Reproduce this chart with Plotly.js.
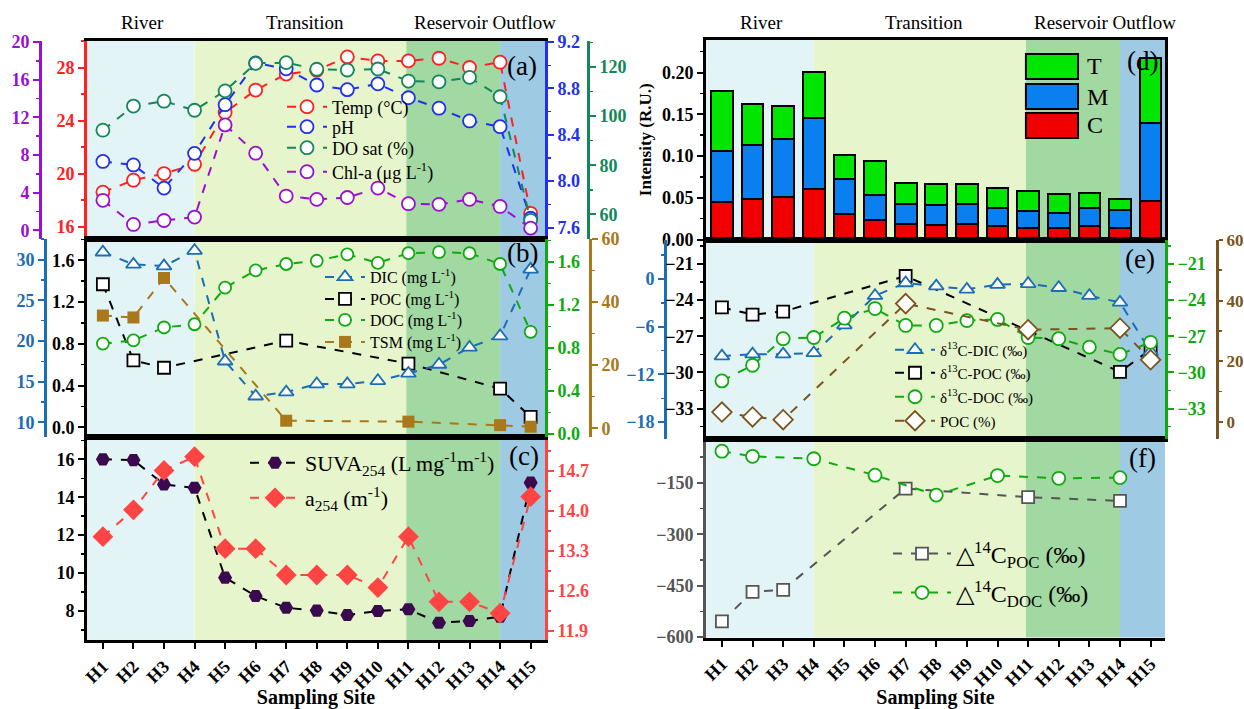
<!DOCTYPE html>
<html><head><meta charset="utf-8">
<script src="https://cdn.plot.ly/plotly-3.0.1.min.js"></script>
<style>html,body{margin:0;padding:0;background:#fff}#chart{width:1244px;height:709px}</style>
</head><body><div id="chart"></div>
<script>
// ---------------- data ----------------
const sites = ['H1','H2','H3','H4','H5','H6','H7','H8','H9','H10','H11','H12','H13','H14','H15'];
const regionNames = ['River','Transition','Reservoir Outflow'];

// (a)
const temp  = [18.6, 19.5, 20.0, 20.7, 24.6, 26.3, 27.5, 27.8, 28.8, 28.5, 28.5, 28.7, 28.0, 28.4, 17.0];
const pH    = [8.17, 8.14, 7.94, 8.24, 8.66, 9.02, 8.97, 8.83, 8.79, 8.84, 8.72, 8.63, 8.52, 8.47, 7.68];
const doSat = [94.3, 104.1, 106.1, 102.4, 110.3, 121.5, 121.8, 119.1, 118.8, 119.2, 114.3, 114.0, 115.8, 107.9, 57.6];
const chla  = [3.2, 0.64, 1.06, 1.42, 11.2, 8.2, 3.65, 3.3, 3.5, 4.5, 2.84, 2.77, 3.3, 2.55, 0.25];
// (b)
const dic = [30.9, 29.4, 29.2, 31.1, 17.5, 13.2, 13.7, 14.7, 14.7, 15.1, 16.0, 17.1, 19.2, 20.6, 28.8];
const poc = [1.37, 0.64, 0.57, null, null, null, 0.83, null, null, null, 0.61, null, null, 0.37, 0.10];
const doc = [0.84, 0.87, 0.99, 1.02, 1.36, 1.52, 1.58, 1.61, 1.67, 1.59, 1.68, 1.69, 1.68, 1.58, 0.95];
const tsm = [35.7, 35.1, 47.6, null, null, null, 2.4, null, null, null, 2.1, null, null, 1.0, 0.5];
// (c)
const suva = [16.0, 15.96, 14.68, 14.5, 9.76, 8.79, 8.17, 8.02, 7.79, 8.0, 8.09, 7.38, 7.47, 7.7, 14.77];
const a254 = [13.55, 14.02, 14.71, 14.95, 13.34, 13.34, 12.88, 12.88, 12.88, 12.66, 13.55, 12.41, 12.41, 12.21, 14.25];
// (d) FDOM components
const compC = [0.045, 0.048, 0.051, 0.061, 0.030, 0.023, 0.018, 0.017, 0.018, 0.016, 0.014, 0.014, 0.016, 0.014, 0.046];
const compM = [0.061, 0.065, 0.070, 0.084, 0.042, 0.030, 0.024, 0.024, 0.024, 0.022, 0.020, 0.018, 0.022, 0.021, 0.094];
const compT = [0.072, 0.049, 0.039, 0.056, 0.029, 0.041, 0.026, 0.025, 0.024, 0.024, 0.024, 0.022, 0.018, 0.013, 0.077];
// (e)
const d13DIC = [-9.7, -9.45, -9.45, -9.3, -5.8, -2.1, -0.5, -0.9, -1.3, -0.7, -0.6, -1.1, -2.1, -2.95, -9.15];
const d13POC = [-24.6, -25.2, -24.95, null, null, null, -22.0, null, null, null, null, null, null, -29.95, -28.1];
const d13DOC = [-30.7, -29.4, -27.2, -27.1, -25.5, -24.7, -26.1, -26.1, -25.7, -25.6, -27.1, -27.2, -27.9, -28.5, -27.5];
const pocPct = [3.3, 1.7, 0.8, null, null, null, 39.0, null, null, null, 30.4, null, null, 30.9, 20.5];
// (f)
const d14POC = [-554, -468, -462, null, null, null, -167, null, null, null, -192, null, null, -203, null];
const d14DOC = [-58, -73, null, -80, null, -128, null, -186, null, -129, null, -137, null, -135, null];

// ---------------- layout constants ----------------
const W = 1244, H = 709;
const SERIF = 'Liberation Serif, Times New Roman, serif';
const XR = [-0.52, 14.47];
const LX = [87/W, 545/W], RX = [706/W, 1165/W];
const A = [1-238.5/H, 1-41/H], B = [1-437/H, 1-238.5/H], C = [1-640/H, 1-437/H];
const D = [1-239.5/H, 1-40/H], E = [1-438.5/H, 1-239.5/H], F = [1-637.5/H, 1-438.5/H];
const zoneEdges = [XR[0], 3, 9.93, 13, XR[1]];
const zoneColors = ['#e3f4f6', '#e6f5cc', '#a2d8a2', '#9ecae4'];
const regionLabelX = [1.3, 6.6, 12.5];

const RED='#ff2020', BLUE='#2030ee', TEAL='#14875a', PURPLE='#9a10d0';
const SBLUE='#1b6db5', DGREEN='#10aa10', GOLD='#a8781a', DPURP='#3b0a4e', LRED='#ff4444';
const BROWN='#7a5420', GRAY='#555555';

// one legend per entry: [left px, centre y px, font size, item width]
const legendSpecs = [
  [282, 107, 18, 40], [282, 127, 18, 40], [282, 148, 18, 40], [282, 172, 18, 40],
  [320, 277, 16, 40], [320, 299, 16, 40], [320, 320, 16, 40], [320, 342, 16, 40],
  [245, 463, 22, 50], [245, 498, 22, 50],
  [890, 350, 15, 40], [890, 373, 15, 40], [890, 397, 15, 40], [890, 421, 15, 40],
  [888, 554, 24, 58], [888, 593, 24, 58]
];
let legCount = 0;
function nextLegend() { legCount++; return legCount === 1 ? 'legend' : 'legend' + legCount; }

function ln(name, y, xa, ya, color, sym, size, filled) {
  return {type:'scatter', mode:'lines+markers', name, x: sites, y, xaxis: xa, yaxis: ya,
    connectgaps: true, legend: nextLegend(), cliponaxis: false,
    line: {color, width: 2, dash: 'dash'},
    marker: {symbol: sym, size, color: filled ? color : '#ffffff', line: {color, width: filled ? 0 : 1.8}}};
}

const traces = [
  // (a)
  ln('Temp (°C)', temp, 'x2', 'y2', RED, 'circle', 13, false),
  ln('pH', pH, 'x2', 'y3', BLUE, 'circle', 13, false),
  ln('DO sat (%)', doSat, 'x2', 'y4', TEAL, 'circle', 13, false),
  ln('Chl-a (μg L<sup>-1</sup>)', chla, 'x2', 'y5', PURPLE, 'circle', 13, false),
  // (b)
  ln('DIC (mg L<sup>-1</sup>)', dic, 'x3', 'y7', SBLUE, 'triangle-up', 13, false),
  ln('POC (mg L<sup>-1</sup>)', poc, 'x3', 'y6', '#000000', 'square', 12, false),
  ln('DOC (mg L<sup>-1</sup>)', doc, 'x3', 'y8', DGREEN, 'circle', 12, false),
  ln('TSM (mg L<sup>-1</sup>)', tsm, 'x3', 'y9', GOLD, 'square', 12, true),
  // (c)
  Object.assign(ln('SUVA<sub>254</sub> (L mg<sup>-1</sup>m<sup>-1</sup>)', suva, 'x', 'y', DPURP, 'hexagon2', 14, true), {line:{color:'#000000', width:2, dash:'dash'}}),
  ln('a<sub>254</sub> (m<sup>-1</sup>)', a254, 'x', 'y10', LRED, 'diamond', 16, true),
  // (e)
  ln('δ<sup>13</sup>C-DIC (‰)', d13DIC, 'x6', 'y14', SBLUE, 'triangle-up', 13, false),
  ln('δ<sup>13</sup>C-POC (‰)', d13POC, 'x6', 'y13', '#000000', 'square', 12, false),
  ln('δ<sup>13</sup>C-DOC (‰)', d13DOC, 'x6', 'y15', DGREEN, 'circle', 13, false),
  ln('POC (%)', pocPct, 'x6', 'y16', BROWN, 'diamond', 15, false),
  // (f)
  ln('△<sup>14</sup>C<sub>POC</sub> (‰)', d14POC, 'x4', 'y11', GRAY, 'square', 12, false),
  ln('△<sup>14</sup>C<sub>DOC</sub> (‰)', d14DOC, 'x4', 'y11', DGREEN, 'circle', 13, false),
  // (d)
  {type:'bar', name:'C', x: sites, y: compC, xaxis:'x5', yaxis:'y12', width:0.71, showlegend:false, marker:{color:'#f00000', line:{color:'#000', width:2}}},
  {type:'bar', name:'M', x: sites, y: compM, xaxis:'x5', yaxis:'y12', width:0.71, showlegend:false, marker:{color:'#0a80f0', line:{color:'#000', width:2}}},
  {type:'bar', name:'T', x: sites, y: compT, xaxis:'x5', yaxis:'y12', width:0.71, showlegend:false, marker:{color:'#00e600', line:{color:'#000', width:2}}},
];

function yax(o) {
  const c = o.color;
  const base = {
    showline: true, linewidth: 3, linecolor: c, ticks: 'outside', ticklen: 6, tickwidth: 2, tickcolor: c,
    showgrid: false, zeroline: false, fixedrange: true,
    tickfont: {family: SERIF, size: 18, weight: 'bold', color: c}
  };
  if (o.dtick) base.minor = {ticks: 'outside', ticklen: 3, tickwidth: 1.5, tickcolor: c, dtick: o.dtick/2, tick0: o.tick0 || 0};
  return Object.assign(base, o);
}
function xax(o) {
  return Object.assign({
    type: 'category', range: XR, showline: true, mirror: true, linewidth: 3, linecolor: '#000',
    showgrid: false, zeroline: false, fixedrange: true, ticks: '', showticklabels: false
  }, o);
}
const bottomX = {
  ticks: 'outside', ticklen: 6, tickwidth: 2, tickcolor: '#000', showticklabels: true, tickangle: -45,
  tickfont: {family: SERIF, size: 18, weight: 'bold', color: '#000'},
  title: {text: 'Sampling Site', font: {family: SERIF, size: 20, weight: 'bold', color: '#000'}, standoff: 6}
};

const shapes = [];
[['x', A[1], C[0]], ['x4', D[1], F[0]]].forEach(([xr, top, bot]) => {
  for (let i = 0; i < zoneColors.length; i++) {
    shapes.push({type:'rect', xref: xr, yref:'paper', x0: zoneEdges[i], x1: zoneEdges[i+1], y0: bot, y1: top,
      fillcolor: zoneColors[i], line: {width: 0}, layer: 'below'});
  }
});
// legend boxes of panel (d)
const boxColors = ['#00e600', '#0a80f0', '#f00000'];
const boxNames = ['T', 'M', 'C'];
const boxY = [[0.8045, 0.930], [0.654, 0.7794], [0.5088, 0.6341]];
boxNames.forEach((n, i) => {
  shapes.push({type:'rect', xref:'x5 domain', yref:'y12 domain', x0:0.697, x1:0.8105, y0: boxY[i][0], y1: boxY[i][1],
    fillcolor: boxColors[i], line:{color:'#000', width:2}, layer:'above'});
});

const annotations = [];
regionNames.forEach((n, i) => {
  ['x', 'x4'].forEach(xr => annotations.push({xref: xr, yref: 'paper', x: regionLabelX[i], y: 1 - 23/H,
    xanchor:'center', yanchor:'middle',
    text: n, showarrow: false, font: {family: SERIF, size: 19, color: '#000'}}));
});
[['(a)', 522, 66], ['(b)', 522, 253], ['(c)', 524, 456], ['(d)', 1142, 61], ['(e)', 1140, 259], ['(f)', 1142, 458]].forEach(([t, px, py]) => {
  annotations.push({xref:'paper', yref:'paper', x: px/W, y: 1 - py/H, xanchor:'center', yanchor:'middle',
    text: t, showarrow:false, font:{family: SERIF, size: 27, color:'#000'}});
});
boxNames.forEach((n, i) => {
  annotations.push({xref:'x5 domain', yref:'y12 domain', x: 0.826, y: (boxY[i][0]+boxY[i][1])/2, xanchor:'left', yanchor:'middle',
    text: n, showarrow:false, font:{family: SERIF, size: 24, color:'#000'}});
});

const layout = {
  width: W, height: H, margin: {l:0, r:0, t:0, b:0}, paper_bgcolor:'#fff', plot_bgcolor:'rgba(0,0,0,0)',
  barmode: 'stack', showlegend: true, shapes, annotations,
  xaxis: xax(Object.assign({domain: LX, anchor:'y'}, bottomX)),
  xaxis2: xax({domain: LX, anchor:'y2'}),
  xaxis3: xax({domain: LX, anchor:'y6'}),
  xaxis4: xax(Object.assign({domain: RX, anchor:'y11'}, bottomX)),
  xaxis5: xax({domain: RX, anchor:'y12'}),
  xaxis6: xax({domain: RX, anchor:'y13'}),
  // (c)
  yaxis: yax({domain: C, anchor:'x', range:[6.47, 17.18], dtick: 2, tick0: 0, color:'#000'}),
  yaxis10: yax({overlaying:'y', side:'right', anchor:'x', range:[11.742, 15.295], tick0: 11.9, dtick: 0.7, tickformat:'.1f', color: LRED}),
  // (a)
  yaxis2: yax({domain: A, anchor:'x2', range:[15.1, 30], dtick: 4, tick0: 0, color: RED}),
  yaxis3: yax({overlaying:'y2', side:'right', anchor:'x2', range:[7.505, 9.21], tick0: 7.6, dtick: 0.4, tickformat:'.1f', color: BLUE}),
  yaxis4: yax({overlaying:'y2', side:'right', anchor:'free', position: 588/W, range:[50.2, 130.6], dtick: 20, tick0: 0, color: TEAL}),
  yaxis5: yax({overlaying:'y2', side:'left', anchor:'free', position: 40/W, range:[-0.85, 20.1], dtick: 4, tick0: 0, color: PURPLE}),
  // (b)
  yaxis6: yax({domain: B, anchor:'x3', range:[-0.093, 1.808], dtick: 0.4, tick0: 0, tickformat:'.1f', color:'#000'}),
  yaxis7: yax({overlaying:'y6', side:'left', anchor:'free', position: 45/W, range:[8.19, 32.59], dtick: 5, tick0: 0, color: SBLUE}),
  yaxis8: yax({overlaying:'y6', side:'right', anchor:'x3', range:[-0.028, 1.817], dtick: 0.4, tick0: 0, tickformat:'.1f', color: DGREEN}),
  yaxis9: yax({overlaying:'y6', side:'right', anchor:'free', position: 590/W, range:[-2.76, 60.1], dtick: 20, tick0: 0, color: GOLD}),
  // (f)
  yaxis11: yax({domain: F, anchor:'x4', range:[-601, -21], dtick: 150, tick0: 0, color: GRAY}),
  yaxis17: {overlaying:'y11', side:'right', anchor:'x4', range:[-601, -21], showline:true, linewidth:3, linecolor:'#000', showticklabels:false, ticks:'', showgrid:false, zeroline:false},
  // (d)
  yaxis12: yax({domain: D, anchor:'x5', range:[0, 0.239], dtick: 0.05, tick0: 0, tickformat:'.2f', color:'#000', mirror: true,
    title: {text:'Intensity (R.U.)', font:{family: SERIF, size: 17, weight:'bold', color:'#000'}, standoff: 6}}),
  // (e)
  yaxis13: yax({domain: E, anchor:'x6', range:[-35.475, -18.975], dtick: 3, tick0: 0, color:'#000'}),
  yaxis14: yax({overlaying:'y13', side:'left', anchor:'free', position: 665/W, range:[-20.06, 4.97], dtick: 6, tick0: 0, color: SBLUE}),
  yaxis15: yax({overlaying:'y13', side:'right', anchor:'x6', range:[-35.475, -18.975], dtick: 3, tick0: 0, color: DGREEN}),
  yaxis16: yax({overlaying:'y13', side:'right', anchor:'free', position: 1217/W, range:[-5.4, 60.1], dtick: 20, tick0: 0, color: BROWN,
    ticklen: 4, tickfont: {family: SERIF, size: 17, weight: 'bold', color: BROWN}}),
};

legendSpecs.forEach((s, i) => {
  const key = i === 0 ? 'legend' : 'legend' + (i + 1);
  layout[key] = {x: s[0]/W, y: 1 - s[1]/H, xanchor:'left', yanchor:'middle', bgcolor:'rgba(0,0,0,0)', borderwidth:0,
    itemwidth: s[3], traceorder:'normal', font:{family: SERIF, size: s[2], color:'#000'}};
});

Plotly.newPlot('chart', traces, layout, {staticPlot: true, displayModeBar: false});
</script>
</body></html>
